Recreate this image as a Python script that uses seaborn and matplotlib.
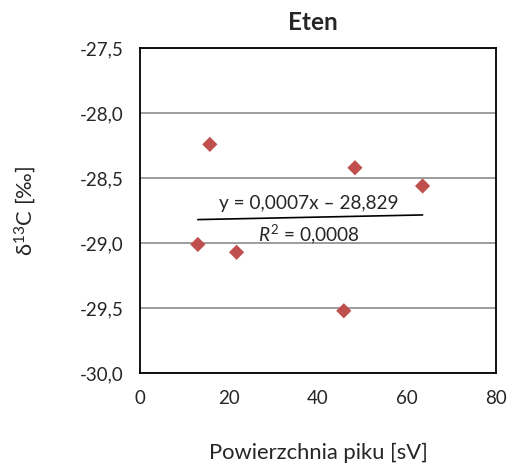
import numpy as np
import pandas as pd
import matplotlib
matplotlib.use("Agg")
import matplotlib.pyplot as plt
import seaborn as sns

# values
powierzchnia = [13.0, 15.7, 21.7, 45.8, 48.3, 63.5]
delta13c = [-29.01, -28.24, -29.07, -29.52, -28.42, -28.56]
x_ticks = [0, 20, 40, 60, 80]
y_ticks = [-30.0, -29.5, -29.0, -28.5, -28.0, -27.5]

sns.set_style("white")
plt.rcParams.update({
    "font.family": ["Lato", "DejaVu Sans"],
    "mathtext.fontset": "custom",
    "mathtext.rm": "Lato",
    "mathtext.it": "Lato:italic",
    "font.size": 13.5,
})

df = pd.DataFrame({"x": powierzchnia, "y": delta13c})

fig = plt.figure(figsize=(5.09, 4.63), dpi=100)
ax = fig.add_axes([0.275, 0.194, 0.6995, 0.702])

ax.set_axisbelow(True)
for yv in y_ticks:
    ax.axhline(yv, color="#8c8c8c", lw=1.2, zorder=0)

sns.scatterplot(data=df, x="x", y="y", marker="D", s=60, color="#C0504D",
                edgecolor="none", ax=ax, zorder=3)

# linear trendline
a, b = np.polyfit(df["x"], df["y"], 1)
xs = np.array([df["x"].min(), df["x"].max()])
ax.plot(xs, a * xs + b, color="black", lw=1.2, zorder=2)
ax.text(38, -28.76, "y = 0,0007x \u2013 28,829", ha="center", va="bottom", fontsize=13.7)
ax.text(38, -28.84, "$R^2$ = 0,0008", ha="center", va="top", fontsize=13.7)

ax.set_xlim(0, 80)
ax.set_ylim(-30, -27.5)
ax.set_xticks(x_ticks)
ax.set_yticks(y_ticks)
ax.set_xticklabels([str(t) for t in x_ticks])
ax.set_yticklabels([f"{t:.1f}".replace(".", ",") for t in y_ticks])
ax.tick_params(direction="out", length=5, width=1.3, color="black", pad=7)
for sp in ax.spines.values():
    sp.set_color("black")
    sp.set_linewidth(1.3)

ax.set_xlabel("Powierzchnia piku [sV]", fontsize=15.8, labelpad=26)
ax.set_ylabel("δ$^{13}$C [‰]", fontsize=15.8, labelpad=30)
ax.set_title("Eten", fontweight="bold", fontsize=17.5, pad=13, x=0.487)

fig.savefig("out.png", dpi=100)
